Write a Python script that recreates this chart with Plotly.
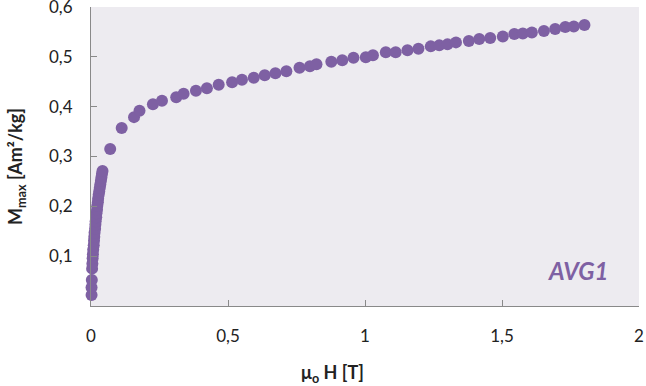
import plotly.graph_objects as go

# Steep low-field part
x_low = [0.002, 0.002, 0.003, 0.004, 0.005, 0.006, 0.007, 0.008, 0.010, 0.011,
         0.012, 0.013, 0.015, 0.016, 0.017, 0.019, 0.020, 0.022, 0.023, 0.025,
         0.026, 0.028, 0.030, 0.032, 0.034, 0.036, 0.038, 0.040, 0.042]
y_low = [0.022, 0.037, 0.052, 0.075, 0.085, 0.096, 0.104, 0.113, 0.122, 0.131,
         0.139, 0.147, 0.155, 0.163, 0.170, 0.178, 0.186, 0.193, 0.201, 0.208,
         0.215, 0.223, 0.230, 0.237, 0.244, 0.251, 0.258, 0.265, 0.271]
# High-field part
x_high = [0.070, 0.112, 0.157, 0.177, 0.226, 0.259, 0.311, 0.338, 0.383, 0.423,
          0.466, 0.515, 0.551, 0.594, 0.634, 0.673, 0.713, 0.761, 0.799, 0.823,
          0.877, 0.917, 0.958, 1.003, 1.029, 1.076, 1.112, 1.155, 1.195, 1.240,
          1.271, 1.301, 1.332, 1.379, 1.417, 1.457, 1.503, 1.545, 1.576, 1.609,
          1.653, 1.694, 1.731, 1.762, 1.801]
y_high = [0.315, 0.357, 0.379, 0.392, 0.405, 0.412, 0.419, 0.426, 0.432, 0.437,
          0.444, 0.449, 0.454, 0.458, 0.463, 0.467, 0.471, 0.478, 0.481, 0.485,
          0.490, 0.493, 0.498, 0.499, 0.503, 0.509, 0.509, 0.513, 0.516, 0.521,
          0.523, 0.525, 0.529, 0.532, 0.536, 0.538, 0.541, 0.546, 0.547, 0.549,
          0.552, 0.556, 0.560, 0.561, 0.564]

x_vals = x_low + x_high
y_vals = y_low + y_high

x_ticks = [0, 0.5, 1, 1.5, 2]
x_tick_labels = ["0", "0,5", "1", "1,5", "2"]
y_ticks = [0.1, 0.2, 0.3, 0.4, 0.5, 0.6]
y_tick_labels = ["0,1", "0,2", "0,3", "0,4", "0,5", "0,6"]

purple = "#7e60a3"
axis_grey = "#898989"
font = "Lato, 'Open Sans', sans-serif"
y_range = [0, 0.6]

fig = go.Figure()
fig.add_trace(go.Scatter(
    x=x_vals, y=y_vals, mode="markers",
    marker=dict(size=12, color=purple, line=dict(width=0)),
    cliponaxis=False, showlegend=False,
))

common = dict(showgrid=False, zeroline=False, automargin=False)

fig.update_layout(
    width=646, height=386,
    margin=dict(l=91, r=7, t=7, b=80, autoexpand=False),
    paper_bgcolor="white",
    plot_bgcolor="#edebf0",
    font=dict(family=font, size=17, color="#222"),
    # label axes: transparent outside ticks give the label gap
    xaxis=dict(range=[0, 2], tickvals=x_ticks, ticktext=x_tick_labels,
               showline=True, linecolor=axis_grey, linewidth=1,
               ticks="outside", ticklen=15, tickcolor="rgba(0,0,0,0)",
               ticklabeloverflow="allow", **common),
    yaxis=dict(range=y_range, tickvals=y_ticks, ticktext=y_tick_labels,
               showline=True, linecolor=axis_grey, linewidth=1,
               ticks="outside", ticklen=14, tickcolor="rgba(0,0,0,0)",
               ticklabeloverflow="allow", **common),
    # tick-mark axes: inside ticks, no labels
    xaxis2=dict(range=[0, 2], tickvals=x_ticks, overlaying="x", anchor="y",
                side="bottom", showticklabels=False, showline=False,
                ticks="inside", ticklen=6, tickcolor=axis_grey, **common),
    yaxis2=dict(range=y_range, tickvals=y_ticks, overlaying="y", anchor="x",
                side="left", showticklabels=False, showline=False,
                ticks="inside", ticklen=6, tickcolor=axis_grey, **common),
    annotations=[
        dict(text="<b>μ<sub>o</sub> H [T]</b>", xref="paper", yref="paper",
             x=0.44, y=-0.226, xanchor="center", yanchor="middle",
             showarrow=False, font=dict(size=18, family=font, color="#222")),
        dict(text="<b>M<sub>max</sub> [Am²/kg]</b>", xref="paper", yref="paper",
             x=-0.137, y=0.468, xanchor="center", yanchor="middle", textangle=-90,
             showarrow=False, font=dict(size=18, family=font, color="#222")),
        dict(text="<b><i>AVG1</i></b>", xref="paper", yref="paper",
             x=0.889, y=0.12, xanchor="center", yanchor="middle",
             showarrow=False, font=dict(size=24, family=font, color=purple)),
    ],
)
# dummy invisible trace to activate the tick-mark axes
fig.add_trace(go.Scatter(x=[None], y=[None], xaxis="x2", yaxis="y2",
                         showlegend=False, hoverinfo="skip"))

fig.write_html("out.html", config={"displayModeBar": False},
               post_script="document.body.style.margin='0px';")
